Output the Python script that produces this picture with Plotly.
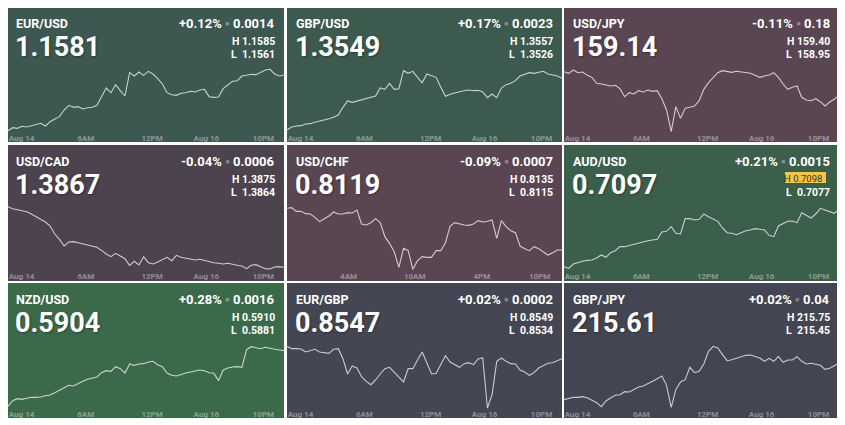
import plotly.graph_objects as go

# ---------------- data ----------------
pairs = ["EUR/USD", "GBP/USD", "USD/JPY", "USD/CAD", "USD/CHF",
         "AUD/USD", "NZD/USD", "EUR/GBP", "GBP/JPY"]
last_price = ["1.1581", "1.3549", "159.14", "1.3867", "0.8119",
              "0.7097", "0.5904", "0.8547", "215.61"]
change_pct = ["+0.12%", "+0.17%", "-0.11%", "-0.04%", "-0.09%",
              "+0.21%", "+0.28%", "+0.02%", "+0.02%"]
change_abs = ["0.0014", "0.0023", "0.18", "0.0006", "0.0007",
              "0.0015", "0.0016", "0.0002", "0.04"]
day_high = ["1.1585", "1.3557", "159.40", "1.3875", "0.8135",
            "0.7098", "0.5910", "0.8549", "215.75"]
day_low = ["1.1561", "1.3526", "158.95", "1.3864", "0.8115",
           "0.7077", "0.5881", "0.8534", "215.45"]

time_labels = ["Aug 14", "6AM", "12PM", "Aug 16", "10PM"]
time_label_pos = [2.9, 16.6, 30.8, 42.4, 54.6]
chf_time_labels = ["4AM", "10AM", "4PM", "10PM"]
chf_time_label_pos = [13.2, 27.4, 41.8, 54.2]

eurusd = [1.15648, 1.15657, 1.15655, 1.15661, 1.15659, 1.15663, 1.15665, 1.15670, 1.15662, 1.15675,
          1.15683, 1.15690, 1.15710, 1.15724, 1.15718, 1.15720, 1.15713, 1.15717, 1.15718, 1.15724,
          1.15750, 1.15776, 1.15762, 1.15786, 1.15768, 1.15752, 1.15822, 1.15812, 1.15824, 1.15814,
          1.15826, 1.15818, 1.15804, 1.15788, 1.15762, 1.15756, 1.15754, 1.15760, 1.15762, 1.15766,
          1.15764, 1.15770, 1.15772, 1.15750, 1.15748, 1.15749, 1.15774, 1.15784, 1.15796, 1.15798,
          1.15812, 1.15814, 1.15817, 1.15816, 1.15824, 1.15830, 1.15832, 1.15818, 1.15812, 1.15815]
gbpusd = [1.35330, 1.35339, 1.35342, 1.35343, 1.35348, 1.35349, 1.35353, 1.35356, 1.35359, 1.35364,
          1.35368, 1.35375, 1.35398, 1.35417, 1.35413, 1.35417, 1.35420, 1.35424, 1.35427, 1.35432,
          1.35456, 1.35452, 1.35470, 1.35452, 1.35454, 1.35508, 1.35500, 1.35506, 1.35488, 1.35472,
          1.35498, 1.35494, 1.35488, 1.35458, 1.35431, 1.35437, 1.35442, 1.35445, 1.35448, 1.35450,
          1.35448, 1.35449, 1.35444, 1.35427, 1.35438, 1.35427, 1.35456, 1.35466, 1.35470, 1.35478,
          1.35492, 1.35498, 1.35502, 1.35500, 1.35503, 1.35506, 1.35498, 1.35494, 1.35492, 1.35485]
usdjpy = [159.280, 159.270, 159.290, 159.274, 159.278, 159.258, 159.246, 159.210, 159.206, 159.198,
          159.194, 159.198, 159.178, 159.130, 159.154, 159.146, 159.166, 159.158, 159.170, 159.162,
          159.166, 159.118, 159.050, 158.920, 159.070, 159.000, 159.060, 159.066, 159.074, 159.106,
          159.174, 159.214, 159.242, 159.274, 159.286, 159.280, 159.276, 159.282, 159.278, 159.274,
          159.270, 159.258, 159.246, 159.254, 159.260, 159.274, 159.246, 159.206, 159.174, 159.186,
          159.194, 159.126, 159.110, 159.106, 159.118, 159.100, 159.074, 159.098, 159.114, 159.140]
usdcad = [1.38854, 1.38848, 1.38845, 1.38841, 1.38839, 1.38832, 1.38824, 1.38816, 1.38808, 1.38796,
          1.38772, 1.38756, 1.38736, 1.38748, 1.38749, 1.38746, 1.38743, 1.38740, 1.38737, 1.38732,
          1.38723, 1.38712, 1.38704, 1.38714, 1.38706, 1.38698, 1.38678, 1.38690, 1.38679, 1.38704,
          1.38686, 1.38682, 1.38688, 1.38694, 1.38702, 1.38692, 1.38708, 1.38702, 1.38699, 1.38698,
          1.38694, 1.38696, 1.38692, 1.38690, 1.38686, 1.38684, 1.38682, 1.38684, 1.38680, 1.38678,
          1.38676, 1.38668, 1.38678, 1.38680, 1.38674, 1.38668, 1.38667, 1.38673, 1.38674, 1.38672]
usdchf = [0.81319, 0.81321, 0.81310, 0.81310, 0.81303, 0.81302, 0.81292, 0.81279, 0.81288, 0.81296,
          0.81308, 0.81302, 0.81302, 0.81306, 0.81305, 0.81314, 0.81272, 0.81269, 0.81276, 0.81288,
          0.81276, 0.81234, 0.81214, 0.81189, 0.81142, 0.81199, 0.81192, 0.81136, 0.81162, 0.81174,
          0.81172, 0.81172, 0.81192, 0.81192, 0.81216, 0.81266, 0.81276, 0.81272, 0.81269, 0.81268,
          0.81272, 0.81282, 0.81278, 0.81280, 0.81284, 0.81229, 0.81282, 0.81264, 0.81252, 0.81246,
          0.81206, 0.81198, 0.81192, 0.81204, 0.81198, 0.81188, 0.81179, 0.81186, 0.81194, 0.81194]
audusd = [0.70794, 0.70789, 0.70802, 0.70807, 0.70810, 0.70813, 0.70814, 0.70820, 0.70829, 0.70822,
          0.70836, 0.70842, 0.70854, 0.70854, 0.70858, 0.70862, 0.70865, 0.70868, 0.70872, 0.70874,
          0.70876, 0.70898, 0.70900, 0.70914, 0.70894, 0.70892, 0.70938, 0.70938, 0.70934, 0.70936,
          0.70952, 0.70944, 0.70938, 0.70930, 0.70910, 0.70896, 0.70894, 0.70890, 0.70896, 0.70902,
          0.70904, 0.70908, 0.70906, 0.70904, 0.70888, 0.70884, 0.70916, 0.70922, 0.70930, 0.70931,
          0.70926, 0.70956, 0.70948, 0.70940, 0.70952, 0.70969, 0.70964, 0.70960, 0.70954, 0.70966]
nzdusd = [0.58869, 0.58886, 0.58892, 0.58890, 0.58893, 0.58896, 0.58896, 0.58897, 0.58901, 0.58903,
          0.58910, 0.58918, 0.58926, 0.58932, 0.58930, 0.58938, 0.58944, 0.58950, 0.58954, 0.58957,
          0.58970, 0.58976, 0.58974, 0.58988, 0.58982, 0.58969, 0.58996, 0.58992, 0.58996, 0.58997,
          0.59002, 0.59004, 0.58994, 0.58988, 0.58969, 0.58962, 0.58960, 0.58965, 0.58969, 0.58972,
          0.58974, 0.58978, 0.58976, 0.58970, 0.58968, 0.58946, 0.58978, 0.58984, 0.58987, 0.58988,
          0.58986, 0.59039, 0.59048, 0.59044, 0.59042, 0.59046, 0.59042, 0.59040, 0.59038, 0.59036]
eurgbp = [0.85509, 0.85502, 0.85502, 0.85501, 0.85492, 0.85497, 0.85500, 0.85492, 0.85489, 0.85488,
          0.85500, 0.85502, 0.85472, 0.85426, 0.85450, 0.85444, 0.85418, 0.85404, 0.85394, 0.85408,
          0.85426, 0.85442, 0.85446, 0.85432, 0.85418, 0.85402, 0.85442, 0.85442, 0.85468, 0.85492,
          0.85460, 0.85426, 0.85428, 0.85456, 0.85481, 0.85462, 0.85454, 0.85446, 0.85457, 0.85460,
          0.85454, 0.85471, 0.85474, 0.85324, 0.85364, 0.85464, 0.85474, 0.85464, 0.85457, 0.85456,
          0.85438, 0.85432, 0.85422, 0.85430, 0.85444, 0.85452, 0.85458, 0.85460, 0.85465, 0.85472]
gbpjpy = [215.388, 215.394, 215.402, 215.402, 215.406, 215.400, 215.386, 215.370, 215.346, 215.380,
          215.398, 215.414, 215.418, 215.436, 215.434, 215.450, 215.464, 215.470, 215.482, 215.498,
          215.514, 215.530, 215.474, 215.342, 215.448, 215.494, 215.508, 215.582, 215.550, 215.558,
          215.602, 215.678, 215.708, 215.698, 215.658, 215.622, 215.628, 215.638, 215.646, 215.654,
          215.656, 215.646, 215.638, 215.618, 215.636, 215.618, 215.646, 215.612, 215.626, 215.626,
          215.646, 215.618, 215.602, 215.606, 215.602, 215.594, 215.570, 215.576, 215.592, 215.608]

series = [eurusd, gbpusd, usdjpy, usdcad, usdchf, audusd, nzdusd, eurgbp, gbpjpy]

# ---------------- styling / layout ----------------
tile_colors = ["#3d5751", "#3d5a4e", "#5a4552", "#4c434f", "#5a4553",
               "#3b5f4b", "#3b6a4a", "#444653", "#434552"]
scale_base = [1.1564, 1.3532, 158.91, 1.3866, 0.8113, 0.7078, 0.5886, 0.8532, 215.33]
scale_step = [1e-5, 1e-5, 0.002, 1e-5, 1e-5, 1e-5, 1e-5, 1e-5, 0.002]

W, H = 845, 425
col_px = [(-1, 276), (279, 554), (556, 831)]
row_px = [(-1, 134), (137, 273), (275, 410)]
P_TOP, P_BOT = 50, 138.5
FONT = "Roboto"


def px(x):
    return x / W


def py(y):
    return 1 - y / H


fig = go.Figure()
shapes = []
annotations = []
layout_axes = {}

for i, (name, vals) in enumerate(zip(pairs, series)):
    r, c = divmod(i, 3)
    L, R = col_px[c]
    T, B = row_px[r]
    n = i + 1
    xa = "x" if n == 1 else f"x{n}"
    ya = "y" if n == 1 else f"y{n}"

    shapes.append(dict(type="rect", xref="paper", yref="paper",
                       x0=px(L), x1=px(R), y0=py(B), y1=py(T),
                       fillcolor=tile_colors[i], line=dict(width=0), layer="below"))

    t = list(range(len(vals)))
    fig.add_trace(go.Scatter(x=t, y=vals, mode="lines",
                             line=dict(color="rgba(255,255,255,0.72)", width=1.1),
                             xaxis=xa, yaxis=ya, hoverinfo="skip", showlegend=False))

    if name == "USD/CHF":
        tv, tt = chf_time_label_pos, chf_time_labels
    else:
        tv, tt = time_label_pos, time_labels

    base, step = scale_base[i], scale_step[i]
    layout_axes["xaxis" if n == 1 else f"xaxis{n}"] = dict(
        domain=[max(0, px(L)), px(R)], range=[0, len(vals) - 1], anchor=ya,
        showgrid=False, zeroline=False, showline=False, ticks="",
        tickvals=tv, ticktext=tt, ticklabelposition="inside",
        ticklabeloverflow="allow", fixedrange=True,
        tickfont=dict(family=FONT, size=8, color="rgba(255,255,255,0.4)", weight=700))
    layout_axes["yaxis" if n == 1 else f"yaxis{n}"] = dict(
        domain=[py(T + P_BOT), py(T + P_TOP)],
        range=[base + (379 - 3 * P_BOT) * step, base + (379 - 3 * P_TOP) * step],
        anchor=xa, visible=False, fixedrange=True)

    annotations.append(dict(x=px(L + 7), y=py(T + 16.8), xref="paper", yref="paper",
                            text=name, showarrow=False, xanchor="left", yanchor="middle",
                            font=dict(family=FONT, size=12.5, color="white", weight=700)))
    annotations.append(dict(x=px(L + 6), y=py(T + 39.8), xref="paper", yref="paper",
                            text=last_price[i], showarrow=False, xanchor="left", yanchor="middle",
                            font=dict(family=FONT, size=27, color="white", weight=700,
                                      shadow="1px 1px 2px rgba(0,0,0,0.35)")))
    annotations.append(dict(x=px(R - 7), y=py(T + 16.8), xref="paper", yref="paper",
                            text=f"{change_pct[i]} <span style='color:rgba(255,255,255,0.35)'>▪</span> {change_abs[i]}",
                            showarrow=False, xanchor="right", yanchor="middle",
                            font=dict(family=FONT, size=13, color="white", weight=700)))
    if name == "AUD/USD":
        shapes.append(dict(type="rect", xref="paper", yref="paper",
                           x0=px(R - 54), x1=px(R - 13), y0=py(T + 38), y1=py(T + 27),
                           fillcolor="#f0c548", line=dict(width=0)))
        annotations.append(dict(x=px(R - 15), y=py(T + 33.8), xref="paper", yref="paper",
                                text=f"H {day_high[i]}", showarrow=False,
                                xanchor="right", yanchor="middle",
                                font=dict(family=FONT, size=9.5, color="#3d3514")))
    else:
        annotations.append(dict(x=px(R - 7), y=py(T + 34.8), xref="paper", yref="paper",
                                text=f"H {day_high[i]}", showarrow=False,
                                xanchor="right", yanchor="middle",
                                font=dict(family=FONT, size=10.5, color="white", weight=700)))
    annotations.append(dict(x=px(R - 7), y=py(T + 47.4), xref="paper", yref="paper",
                            text=f"L  {day_low[i]}", showarrow=False,
                            xanchor="right", yanchor="middle",
                            font=dict(family=FONT, size=10.5, color="white", weight=700)))

fig.update_layout(width=W, height=H, autosize=False,
                  margin=dict(l=0, r=0, t=0, b=0),
                  paper_bgcolor="white", plot_bgcolor="rgba(0,0,0,0)",
                  showlegend=False, shapes=shapes, annotations=annotations,
                  **layout_axes)

fig.write_html("out.html")
